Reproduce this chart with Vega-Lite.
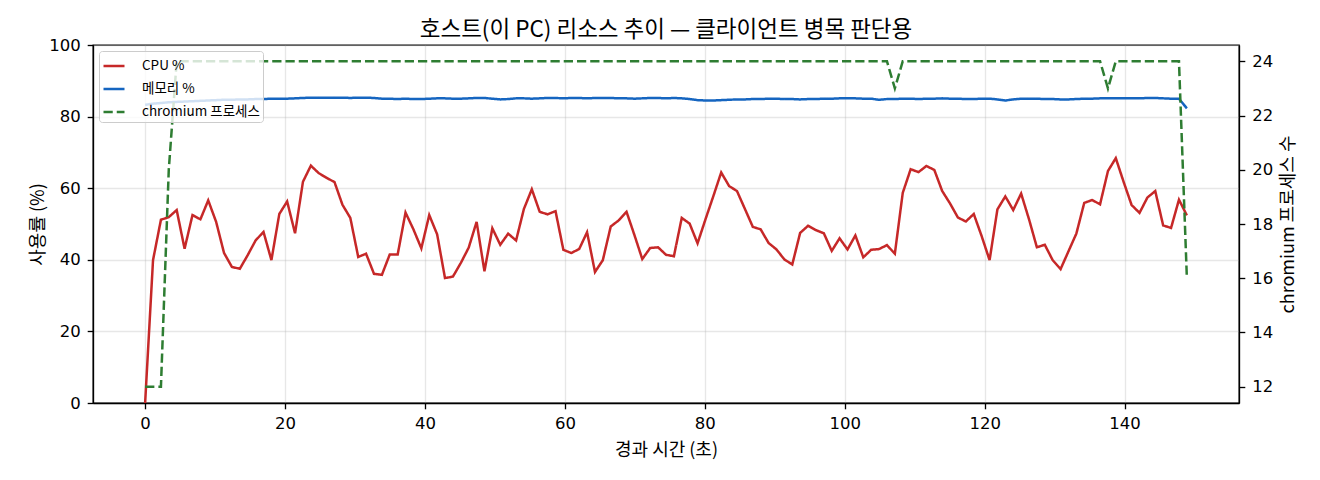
{
  "$schema": "https://vega.github.io/schema/vega-lite/v6.json",
  "width": 1146,
  "height": 358,
  "autosize": "none",
  "padding": {"left": 93, "top": 45, "right": 81, "bottom": 77},
  "background": "white",
  "title": {
    "text": "호스트(이 PC) 리소스 추이 — 클라이언트 병목 판단용",
    "font": "Noto Sans CJK KR",
    "fontSize": 22.5,
    "fontWeight": "normal",
    "color": "black",
    "frame": "group",
    "offset": -4
  },
  "data": {
    "values": [
      {"t": 0, "cpu": 0, "mem": 83.3, "proc": 12},
      {"t": 1.13, "cpu": 39.9, "mem": 83.6, "proc": 12},
      {"t": 2.26, "cpu": 51.2, "mem": 83.8, "proc": 12},
      {"t": 3.38, "cpu": 51.9, "mem": 84.0, "proc": 20},
      {"t": 4.51, "cpu": 53.9, "mem": 84.1, "proc": 24},
      {"t": 5.64, "cpu": 43.1, "mem": 84.2, "proc": 24},
      {"t": 6.77, "cpu": 52.5, "mem": 84.3, "proc": 24},
      {"t": 7.90, "cpu": 51.3, "mem": 84.4, "proc": 24},
      {"t": 9.02, "cpu": 56.6, "mem": 84.5, "proc": 24},
      {"t": 10.15, "cpu": 50.6, "mem": 84.6, "proc": 24},
      {"t": 11.28, "cpu": 41.9, "mem": 84.7, "proc": 24},
      {"t": 12.41, "cpu": 38.0, "mem": 84.7, "proc": 24},
      {"t": 13.54, "cpu": 37.5, "mem": 84.8, "proc": 24},
      {"t": 14.66, "cpu": 41.3, "mem": 84.8, "proc": 24},
      {"t": 15.79, "cpu": 45.4, "mem": 84.9, "proc": 24},
      {"t": 16.92, "cpu": 47.8, "mem": 84.9, "proc": 24},
      {"t": 18.05, "cpu": 39.9, "mem": 85.0, "proc": 24},
      {"t": 19.18, "cpu": 52.8, "mem": 85.0, "proc": 24},
      {"t": 20.30, "cpu": 56.3, "mem": 85.0, "proc": 24},
      {"t": 21.43, "cpu": 47.4, "mem": 85.1, "proc": 24},
      {"t": 22.56, "cpu": 61.8, "mem": 85.2, "proc": 24},
      {"t": 23.69, "cpu": 66.3, "mem": 85.3, "proc": 24},
      {"t": 24.82, "cpu": 64.2, "mem": 85.3, "proc": 24},
      {"t": 25.94, "cpu": 62.9, "mem": 85.3, "proc": 24},
      {"t": 27.07, "cpu": 61.7, "mem": 85.3, "proc": 24},
      {"t": 28.20, "cpu": 55.4, "mem": 85.3, "proc": 24},
      {"t": 29.33, "cpu": 51.7, "mem": 85.2, "proc": 24},
      {"t": 30.46, "cpu": 40.8, "mem": 85.3, "proc": 24},
      {"t": 31.58, "cpu": 41.7, "mem": 85.3, "proc": 24},
      {"t": 32.71, "cpu": 36.1, "mem": 85.2, "proc": 24},
      {"t": 33.84, "cpu": 35.8, "mem": 85.0, "proc": 24},
      {"t": 34.97, "cpu": 41.5, "mem": 85.0, "proc": 24},
      {"t": 36.10, "cpu": 41.5, "mem": 84.9, "proc": 24},
      {"t": 37.22, "cpu": 53.2, "mem": 85.0, "proc": 24},
      {"t": 38.35, "cpu": 48.5, "mem": 84.9, "proc": 24},
      {"t": 39.48, "cpu": 43.2, "mem": 84.9, "proc": 24},
      {"t": 40.61, "cpu": 52.5, "mem": 85.0, "proc": 24},
      {"t": 41.74, "cpu": 47.1, "mem": 85.1, "proc": 24},
      {"t": 42.86, "cpu": 34.9, "mem": 85.1, "proc": 24},
      {"t": 43.99, "cpu": 35.3, "mem": 85.0, "proc": 24},
      {"t": 45.12, "cpu": 39.1, "mem": 85.0, "proc": 24},
      {"t": 46.25, "cpu": 43.4, "mem": 85.1, "proc": 24},
      {"t": 47.38, "cpu": 50.6, "mem": 85.2, "proc": 24},
      {"t": 48.50, "cpu": 36.8, "mem": 85.2, "proc": 24},
      {"t": 49.63, "cpu": 48.8, "mem": 85.0, "proc": 24},
      {"t": 50.76, "cpu": 44.2, "mem": 84.8, "proc": 24},
      {"t": 51.89, "cpu": 47.3, "mem": 84.9, "proc": 24},
      {"t": 53.02, "cpu": 45.4, "mem": 85.1, "proc": 24},
      {"t": 54.14, "cpu": 54.2, "mem": 85.1, "proc": 24},
      {"t": 55.27, "cpu": 59.7, "mem": 85.0, "proc": 24},
      {"t": 56.40, "cpu": 53.4, "mem": 85.1, "proc": 24},
      {"t": 57.53, "cpu": 52.7, "mem": 85.2, "proc": 24},
      {"t": 58.66, "cpu": 53.6, "mem": 85.2, "proc": 24},
      {"t": 59.78, "cpu": 42.8, "mem": 85.1, "proc": 24},
      {"t": 60.91, "cpu": 41.9, "mem": 85.2, "proc": 24},
      {"t": 62.04, "cpu": 43.0, "mem": 85.2, "proc": 24},
      {"t": 63.17, "cpu": 47.7, "mem": 85.1, "proc": 24},
      {"t": 64.30, "cpu": 36.6, "mem": 85.2, "proc": 24},
      {"t": 65.42, "cpu": 39.9, "mem": 85.2, "proc": 24},
      {"t": 66.55, "cpu": 49.3, "mem": 85.2, "proc": 24},
      {"t": 67.68, "cpu": 51.0, "mem": 85.1, "proc": 24},
      {"t": 68.81, "cpu": 53.4, "mem": 85.1, "proc": 24},
      {"t": 69.94, "cpu": 46.9, "mem": 85.0, "proc": 24},
      {"t": 71.06, "cpu": 40.2, "mem": 85.1, "proc": 24},
      {"t": 72.19, "cpu": 43.3, "mem": 85.2, "proc": 24},
      {"t": 73.32, "cpu": 43.5, "mem": 85.2, "proc": 24},
      {"t": 74.45, "cpu": 41.4, "mem": 85.1, "proc": 24},
      {"t": 75.58, "cpu": 41.0, "mem": 85.2, "proc": 24},
      {"t": 76.70, "cpu": 51.7, "mem": 85.1, "proc": 24},
      {"t": 77.83, "cpu": 50.1, "mem": 84.9, "proc": 24},
      {"t": 78.96, "cpu": 44.6, "mem": 84.6, "proc": 24},
      {"t": 80.09, "cpu": 51.3, "mem": 84.5, "proc": 24},
      {"t": 81.22, "cpu": 57.8, "mem": 84.5, "proc": 24},
      {"t": 82.34, "cpu": 64.4, "mem": 84.6, "proc": 24},
      {"t": 83.47, "cpu": 60.6, "mem": 84.7, "proc": 24},
      {"t": 84.60, "cpu": 59.2, "mem": 84.8, "proc": 24},
      {"t": 85.73, "cpu": 54.2, "mem": 84.8, "proc": 24},
      {"t": 86.86, "cpu": 49.2, "mem": 84.9, "proc": 24},
      {"t": 87.98, "cpu": 48.5, "mem": 84.9, "proc": 24},
      {"t": 89.11, "cpu": 44.7, "mem": 85.0, "proc": 24},
      {"t": 90.24, "cpu": 42.9, "mem": 85.0, "proc": 24},
      {"t": 91.37, "cpu": 40.1, "mem": 84.9, "proc": 24},
      {"t": 92.50, "cpu": 38.7, "mem": 84.9, "proc": 24},
      {"t": 93.62, "cpu": 47.5, "mem": 84.8, "proc": 24},
      {"t": 94.75, "cpu": 49.5, "mem": 84.9, "proc": 24},
      {"t": 95.88, "cpu": 48.3, "mem": 84.9, "proc": 24},
      {"t": 97.01, "cpu": 47.4, "mem": 85.0, "proc": 24},
      {"t": 98.14, "cpu": 42.5, "mem": 85.0, "proc": 24},
      {"t": 99.26, "cpu": 46.0, "mem": 85.1, "proc": 24},
      {"t": 100.39, "cpu": 42.9, "mem": 85.1, "proc": 24},
      {"t": 101.52, "cpu": 46.8, "mem": 85.1, "proc": 24},
      {"t": 102.65, "cpu": 40.7, "mem": 85.0, "proc": 24},
      {"t": 103.78, "cpu": 42.8, "mem": 85.0, "proc": 24},
      {"t": 104.90, "cpu": 43.0, "mem": 84.7, "proc": 24},
      {"t": 106.03, "cpu": 44.1, "mem": 84.9, "proc": 24},
      {"t": 107.16, "cpu": 41.7, "mem": 84.9, "proc": 23},
      {"t": 108.29, "cpu": 58.7, "mem": 85.0, "proc": 24},
      {"t": 109.42, "cpu": 65.3, "mem": 85.0, "proc": 24},
      {"t": 110.54, "cpu": 64.5, "mem": 84.9, "proc": 24},
      {"t": 111.67, "cpu": 66.2, "mem": 85.0, "proc": 24},
      {"t": 112.80, "cpu": 65.1, "mem": 85.0, "proc": 24},
      {"t": 113.93, "cpu": 59.2, "mem": 85.1, "proc": 24},
      {"t": 115.06, "cpu": 55.7, "mem": 85.0, "proc": 24},
      {"t": 116.18, "cpu": 51.8, "mem": 85.0, "proc": 24},
      {"t": 117.31, "cpu": 50.7, "mem": 84.9, "proc": 24},
      {"t": 118.44, "cpu": 52.8, "mem": 84.9, "proc": 24},
      {"t": 119.57, "cpu": 46.6, "mem": 85.0, "proc": 24},
      {"t": 120.70, "cpu": 39.9, "mem": 85.0, "proc": 24},
      {"t": 121.82, "cpu": 54.1, "mem": 84.8, "proc": 24},
      {"t": 122.95, "cpu": 57.7, "mem": 84.5, "proc": 24},
      {"t": 124.08, "cpu": 53.9, "mem": 84.8, "proc": 24},
      {"t": 125.21, "cpu": 58.5, "mem": 85.0, "proc": 24},
      {"t": 126.34, "cpu": 51.3, "mem": 85.0, "proc": 24},
      {"t": 127.46, "cpu": 43.5, "mem": 85.0, "proc": 24},
      {"t": 128.59, "cpu": 44.2, "mem": 84.9, "proc": 24},
      {"t": 129.72, "cpu": 39.9, "mem": 84.9, "proc": 24},
      {"t": 130.85, "cpu": 37.4, "mem": 84.8, "proc": 24},
      {"t": 131.98, "cpu": 42.4, "mem": 84.8, "proc": 24},
      {"t": 133.10, "cpu": 47.3, "mem": 84.9, "proc": 24},
      {"t": 134.23, "cpu": 55.9, "mem": 85.0, "proc": 24},
      {"t": 135.36, "cpu": 56.7, "mem": 85.0, "proc": 24},
      {"t": 136.49, "cpu": 55.5, "mem": 85.1, "proc": 24},
      {"t": 137.62, "cpu": 64.8, "mem": 85.1, "proc": 23},
      {"t": 138.74, "cpu": 68.4, "mem": 85.1, "proc": 24},
      {"t": 139.87, "cpu": 61.7, "mem": 85.1, "proc": 24},
      {"t": 141.00, "cpu": 55.3, "mem": 85.1, "proc": 24},
      {"t": 142.13, "cpu": 53.1, "mem": 85.1, "proc": 24},
      {"t": 143.26, "cpu": 57.4, "mem": 85.2, "proc": 24},
      {"t": 144.38, "cpu": 59.2, "mem": 85.2, "proc": 24},
      {"t": 145.51, "cpu": 49.6, "mem": 85.1, "proc": 24},
      {"t": 146.64, "cpu": 48.9, "mem": 85.0, "proc": 24},
      {"t": 147.77, "cpu": 56.8, "mem": 85.0, "proc": 24},
      {"t": 148.90, "cpu": 52.4, "mem": 82.3, "proc": 16}
    ]
  },
  "encoding": {
    "x": {
      "field": "t",
      "type": "quantitative",
      "scale": {"domain": [-7.45, 156.35], "nice": false, "zero": false},
      "axis": {"title": "경과 시간 (초)", "values": [0, 20, 40, 60, 80, 100, 120, 140], "labelPadding": 7, "titlePadding": 9}
    }
  },
  "layer": [
    {
      "transform": [{"fold": ["cpu", "mem"], "as": ["s", "v"]}],
      "mark": {"type": "line", "strokeWidth": 2.5},
      "encoding": {
        "y": {
          "field": "v",
          "type": "quantitative",
          "scale": {"domain": [0, 100], "nice": false},
          "axis": {"title": "사용률 (%)", "values": [0, 20, 40, 60, 80, 100], "labelPadding": 7, "titlePadding": 1}
        },
        "color": {
          "field": "s",
          "type": "nominal",
          "scale": {"domain": ["cpu", "mem", "proc"], "range": ["#c62828", "#1565c0", "#2e7d32"]},
          "legend": {
            "title": null,
            "orient": "top-left",
            "offset": 6,
            "labelExpr": "datum.value == 'cpu' ? 'CPU %' : datum.value == 'mem' ? '메모리 %' : 'chromium 프로세스'",
            "symbolType": "stroke",
            "symbolSize": 441,
            "symbolStrokeWidth": 2.5,
            "labelFont": "Noto Sans CJK KR",
            "labelFontSize": 13.5,
            "labelColor": "black",
            "labelOffset": 16,
            "strokeColor": "#cccccc",
            "fillColor": "rgba(255,255,255,0.8)",
            "cornerRadius": 3,
            "padding": 3,
            "rowPadding": 4
          }
        },
        "strokeDash": {
          "field": "s",
          "type": "nominal",
          "scale": {"domain": ["cpu", "mem", "proc"], "range": [[1, 0], [1, 0], [9.25, 4]]},
          "legend": {
            "title": null,
            "orient": "top-left",
            "offset": 6,
            "labelExpr": "datum.value == 'cpu' ? 'CPU %' : datum.value == 'mem' ? '메모리 %' : 'chromium 프로세스'",
            "symbolType": "stroke",
            "symbolSize": 441,
            "symbolStrokeWidth": 2.5,
            "labelFont": "Noto Sans CJK KR",
            "labelFontSize": 13.5,
            "labelColor": "black",
            "labelOffset": 16,
            "strokeColor": "#cccccc",
            "fillColor": "rgba(255,255,255,0.8)",
            "cornerRadius": 3,
            "padding": 3,
            "rowPadding": 4
          }
        }
      }
    },
    {
      "transform": [{"fold": ["proc"], "as": ["s", "v"]}],
      "mark": {"type": "line", "strokeWidth": 2.5},
      "encoding": {
        "y": {
          "field": "v",
          "type": "quantitative",
          "scale": {"domain": [11.4, 24.6], "nice": false, "zero": false},
          "axis": {"title": "chromium 프로세스 수", "orient": "right", "grid": false, "titleAngle": 270, "titleBaseline": "top", "values": [12, 14, 16, 18, 20, 22, 24], "labelPadding": 7, "titlePadding": 7}
        },
        "color": {"field": "s", "type": "nominal"},
        "strokeDash": {"field": "s", "type": "nominal"}
      }
    }
  ],
  "resolve": {"scale": {"y": "independent"}},
  "config": {
    "view": {"stroke": "black", "strokeWidth": 1.33},
    "axis": {
      "labelFont": "DejaVu Sans",
      "titleFont": "Noto Sans CJK KR",
      "labelFontSize": 16.5,
      "titleFontSize": 18,
      "titleFontWeight": "normal",
      "labelColor": "black",
      "titleColor": "black",
      "domainColor": "black",
      "domainWidth": 1.33,
      "tickColor": "black",
      "tickWidth": 1.33,
      "tickSize": 5.8,
      "gridColor": "#b0b0b0",
      "gridOpacity": 0.3,
      "gridWidth": 1.33
    }
  }
}
